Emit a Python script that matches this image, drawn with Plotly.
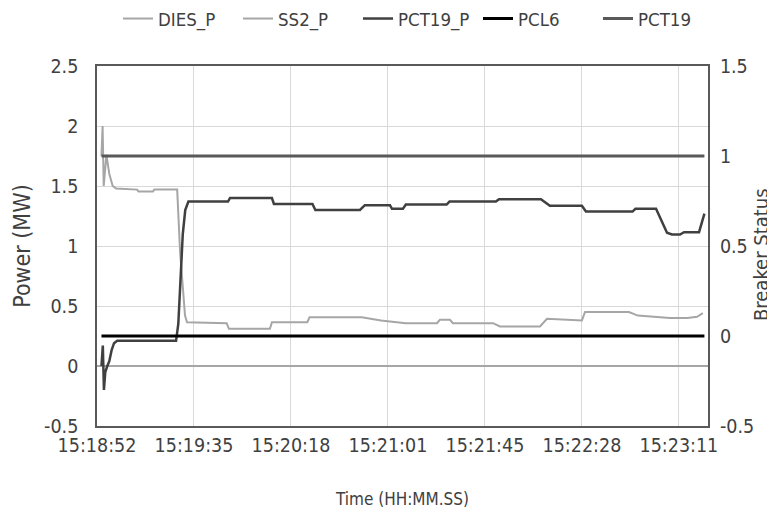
import plotly.graph_objects as go

# ---- data (time in seconds after 15:18:52) ----
tick_seconds = [0, 43.3, 86.6, 129.9, 173.2, 216.5, 259.8]
tick_labels = ["15:18:52", "15:19:35", "15:20:18", "15:21:01", "15:21:45", "15:22:28", "15:23:11"]

dies_t = [2.0, 2.5, 3.0, 4.2, 5.5, 7.0, 8.5, 17.9, 18.5, 25.0, 25.6, 35.8, 37.1, 38.5, 39.3, 40.2,
          57.9, 58.9, 77.2, 78.1, 93.9, 94.9, 118.2, 126.8, 137.9, 151.8, 153.1, 157.6, 158.9,
          176.8, 179.9, 197.8, 200.9, 216.5, 217.9, 237.5, 241.5, 255.8, 263.6, 267.9, 270.5]
dies_p = [1.75, 2.0, 1.5, 1.76, 1.6, 1.5, 1.48, 1.47, 1.455, 1.455, 1.47, 1.47, 0.95, 0.63, 0.42, 0.365,
          0.357, 0.31, 0.31, 0.365, 0.365, 0.407, 0.407, 0.38, 0.357, 0.357, 0.385, 0.385, 0.357,
          0.357, 0.33, 0.33, 0.393, 0.38, 0.45, 0.45, 0.42, 0.40, 0.40, 0.41, 0.44]

ss2_t = [0.0, 272.8]
ss2_p = [0.0, 0.0]

pct19p_t = [2.0, 2.6, 3.1, 3.7, 4.6, 5.5, 6.5, 7.6, 9.0, 35.3, 36.3, 37.3, 38.3, 39.4, 40.8,
            58.5, 59.4, 78.1, 79.0, 96.2, 97.5, 117.4, 119.6, 130.8, 131.7, 136.6, 137.9,
            156.1, 157.4, 178.1, 179.5, 198.2, 202.2, 216.5, 218.3, 239.1, 240.4, 249.6,
            252.2, 254.5, 256.7, 260.3, 262.1, 268.8, 271.2]
pct19p_p = [0.0, 0.17, -0.2, -0.05, 0.0, 0.04, 0.13, 0.19, 0.21, 0.21, 0.35, 0.75, 1.1, 1.3, 1.37,
            1.37, 1.40, 1.40, 1.35, 1.35, 1.30, 1.30, 1.34, 1.34, 1.31, 1.31, 1.345,
            1.345, 1.37, 1.37, 1.39, 1.39, 1.335, 1.335, 1.287, 1.287, 1.31, 1.31,
            1.2, 1.11, 1.096, 1.096, 1.115, 1.115, 1.27]

pcl6_t = [2.0, 271.2]
pcl6_s = [0, 0]
pct19_t = [2.0, 271.2]
pct19_s = [1, 1]

FONT = "DejaVu Sans Condensed, Liberation Sans Narrow, sans-serif"
TXT = "#404040"

fig = go.Figure()
fig.add_trace(go.Scatter(x=dies_t, y=dies_p, name="DIES_P", mode="lines",
                         line=dict(color="#a6a6a6", width=2)))
fig.add_trace(go.Scatter(x=ss2_t, y=ss2_p, name="SS2_P", mode="lines",
                         line=dict(color="#a6a6a6", width=2)))
fig.add_trace(go.Scatter(x=pct19p_t, y=pct19p_p, name="PCT19_P", mode="lines",
                         line=dict(color="#404040", width=2.5)))
fig.add_trace(go.Scatter(x=pcl6_t, y=pcl6_s, name="PCL6", mode="lines", yaxis="y2",
                         line=dict(color="#000000", width=3)))
fig.add_trace(go.Scatter(x=pct19_t, y=pct19_s, name="PCT19", mode="lines", yaxis="y2",
                         line=dict(color="#595959", width=3)))

# figure is 767x508 because the page body adds an 8px margin at top-left
fig.update_layout(
    width=767, height=508,
    margin=dict(l=89, r=67, t=58, b=90),
    paper_bgcolor="white", plot_bgcolor="white",
    font=dict(family=FONT, size=19, color=TXT),
    showlegend=True,
    legend=dict(orientation="h", xref="container", yref="container",
                x=(118 - 8) / 767, xanchor="left", y=1 - 11 / 508, yanchor="middle",
                font=dict(family=FONT, size=18.5, color=TXT), itemwidth=30,
                entrywidth=75, entrywidthmode="pixels",
                bgcolor="rgba(0,0,0,0)"),
    xaxis=dict(range=[0, 272.8], tickvals=tick_seconds, ticktext=tick_labels,
               showgrid=True, gridcolor="#d9d9d9", gridwidth=1, zeroline=False,
               showline=True, linecolor="#595959", linewidth=1.5, mirror=True,
               ticks="outside", ticklen=1, tickcolor="rgba(0,0,0,0)", automargin=False,
               tickfont=dict(family=FONT, size=19.5, color=TXT),
               title=dict(text="Time (HH:MM.SS)", standoff=37,
                          font=dict(family=FONT, size=17, color=TXT))),
    yaxis=dict(range=[-0.5, 2.5], tickvals=[-0.5, 0, 0.5, 1, 1.5, 2, 2.5],
               ticktext=["-0.5", "0", "0.5", "1", "1.5", "2", "2.5"],
               showgrid=True, gridcolor="#d9d9d9", gridwidth=1, zeroline=False,
               showline=True, linecolor="#595959", linewidth=1.5, mirror=True,
               ticks="outside", ticklen=13, tickcolor="rgba(0,0,0,0)", automargin=False,
               tickfont=dict(family=FONT, size=19.5, color=TXT),
               title=dict(text="Power (MW)", standoff=7,
                          font=dict(family=FONT, size=23, color=TXT))),
    yaxis2=dict(range=[-0.5, 1.5], tickvals=[-0.5, 0, 0.5, 1, 1.5],
                ticktext=["-0.5", "0", "0.5", "1", "1.5"],
                overlaying="y", side="right", showgrid=False, zeroline=False,
                showline=False, automargin=False,
                ticks="outside", ticklen=7, tickcolor="rgba(0,0,0,0)",
                tickfont=dict(family=FONT, size=19.5, color=TXT)),
    annotations=[dict(text="Breaker Status", textangle=-90, showarrow=False,
                      xref="paper", yref="paper", x=(753 - 89) / 611, y=(418 - 247) / 360,
                      xanchor="center", yanchor="middle",
                      font=dict(family=FONT, size=20, color=TXT))],
)

fig.write_html("out.html")
